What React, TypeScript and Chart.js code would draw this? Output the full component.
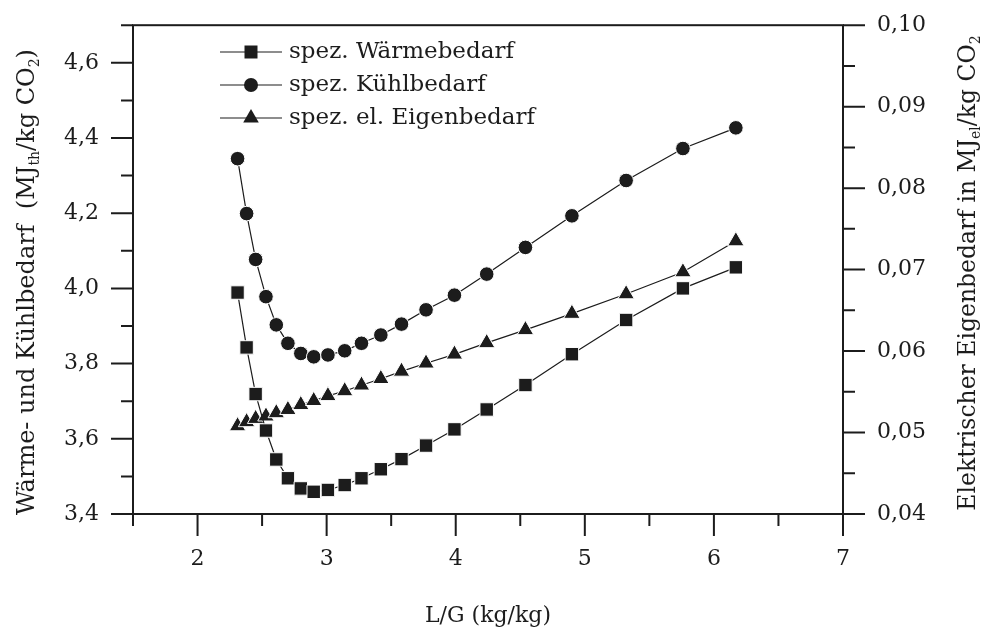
import React, { useEffect, useRef } from 'react';
import { Chart, registerables } from 'chart.js';

Chart.register(...registerables);

// ---- data ----
const xValues = [2.31, 2.38, 2.45, 2.53, 2.61, 2.70, 2.80, 2.90, 3.01, 3.14, 3.27, 3.42, 3.58, 3.77, 3.99, 4.24, 4.54, 4.90, 5.32, 5.76, 6.17];
const waermebedarf = [3.989, 3.843, 3.719, 3.622, 3.545, 3.495, 3.468, 3.459, 3.464, 3.477, 3.495, 3.519, 3.546, 3.582, 3.625, 3.678, 3.743, 3.825, 3.916, 4.000, 4.056];
const kuehlbedarf = [4.345, 4.199, 4.077, 3.978, 3.903, 3.854, 3.827, 3.818, 3.823, 3.834, 3.854, 3.876, 3.905, 3.943, 3.982, 4.038, 4.109, 4.193, 4.287, 4.372, 4.427];
const eigenbedarf = [0.0508, 0.0513, 0.0517, 0.0520, 0.0524, 0.0528, 0.0534, 0.0539, 0.0545, 0.0551, 0.0558, 0.0566, 0.0575, 0.0585, 0.0596, 0.0610, 0.0626, 0.0646, 0.0670, 0.0697, 0.0735];

const seriesNames = ['spez. Wärmebedarf', 'spez. Kühlbedarf', 'spez. el. Eigenbedarf'];

const xTicks = [1.5, 2, 2.5, 3, 3.5, 4, 4.5, 5, 5.5, 6, 6.5, 7];
const xTickLabels = ['', '2', '', '3', '', '4', '', '5', '', '6', '', '7'];
const leftTicks = [3.4, 3.5, 3.6, 3.7, 3.8, 3.9, 4.0, 4.1, 4.2, 4.3, 4.4, 4.5, 4.6, 4.7];
const leftTickLabels = ['3,4', '', '3,6', '', '3,8', '', '4,0', '', '4,2', '', '4,4', '', '4,6', ''];
const rightTicks = [0.04, 0.045, 0.05, 0.055, 0.06, 0.065, 0.07, 0.075, 0.08, 0.085, 0.09, 0.095, 0.1];
const rightTickLabels = ['0,04', '', '0,05', '', '0,06', '', '0,07', '', '0,08', '', '0,09', '', '0,10'];

const xTitle = 'L/G (kg/kg)';
const leftTitle = [
  { t: 'Wärme- und Kühlbedarf  (MJ' },
  { t: 'th', sub: true },
  { t: '/kg CO' },
  { t: '2', sub: true },
  { t: ')' },
];
const rightTitle = [
  { t: 'Elektrischer Eigenbedarf in MJ' },
  { t: 'el', sub: true },
  { t: '/kg CO' },
  { t: '2', sub: true },
];

const FONT = '"DejaVu Serif", serif';
const INK = '#1c1c1c';

type Part = { t: string; sub?: boolean };

function richWidth(ctx: CanvasRenderingContext2D, parts: Part[], size: number) {
  let w = 0;
  for (const p of parts) {
    ctx.font = `${p.sub ? Math.round(size * 0.6) : size}px ${FONT}`;
    w += ctx.measureText(p.t).width;
  }
  return w;
}

function drawRich(ctx: CanvasRenderingContext2D, parts: Part[], size: number, cx: number, cy: number, rot: number) {
  ctx.save();
  ctx.translate(cx, cy);
  ctx.rotate(rot);
  const w = richWidth(ctx, parts, size);
  let x = -w / 2;
  ctx.textBaseline = 'alphabetic';
  ctx.textAlign = 'left';
  ctx.fillStyle = INK;
  for (const p of parts) {
    const s = p.sub ? Math.round(size * 0.6) : size;
    ctx.font = `${s}px ${FONT}`;
    ctx.fillText(p.t, x, p.sub ? size * 0.22 : 0);
    x += ctx.measureText(p.t).width;
  }
  ctx.restore();
}

function drawMarker(ctx: CanvasRenderingContext2D, style: string, x: number, y: number) {
  ctx.save();
  ctx.fillStyle = INK;
  ctx.beginPath();
  if (style === 'rect') {
    ctx.rect(x - 6.5, y - 6.5, 13, 13);
  } else if (style === 'circle') {
    ctx.arc(x, y, 7, 0, Math.PI * 2);
  } else {
    const r = 9;
    ctx.moveTo(x, y - r);
    ctx.lineTo(x + r * 0.866, y + r * 0.5);
    ctx.lineTo(x - r * 0.866, y + r * 0.5);
    ctx.closePath();
  }
  ctx.fill();
  ctx.restore();
}

const markerStyles = ['rect', 'circle', 'triangle'];

const decorPlugin = {
  id: 'decor',
  afterDraw(chart: any) {
    const ctx: CanvasRenderingContext2D = chart.ctx;
    const { left, right, top, bottom } = chart.chartArea;
    const xs = chart.scales.x;
    const yl = chart.scales.y;
    const yr = chart.scales.y2;
    ctx.save();
    ctx.strokeStyle = INK;
    ctx.lineWidth = 2;
    ctx.lineCap = 'butt';
    // frame
    ctx.strokeRect(left, top, right - left, bottom - top);
    // ticks
    ctx.beginPath();
    xs.ticks.forEach((t: any, i: number) => {
      const px = xs.getPixelForTick(i);
      const len = xTickLabels[i] ? 22 : 12;
      ctx.moveTo(px, bottom);
      ctx.lineTo(px, bottom + len);
    });
    yl.ticks.forEach((t: any, i: number) => {
      const py = yl.getPixelForTick(i);
      const len = leftTickLabels[i] ? 22 : 12;
      ctx.moveTo(left, py);
      ctx.lineTo(left - len, py);
    });
    yr.ticks.forEach((t: any, i: number) => {
      const py = yr.getPixelForTick(i);
      const len = rightTickLabels[i] ? 22 : 12;
      ctx.moveTo(right, py);
      ctx.lineTo(right + len, py);
    });
    ctx.stroke();

    // legend
    const rows = [52, 85, 118];
    rows.forEach((ry, i) => {
      ctx.beginPath();
      ctx.strokeStyle = INK;
      ctx.lineWidth = 1.2;
      ctx.moveTo(220, ry);
      ctx.lineTo(282, ry);
      ctx.stroke();
      drawMarker(ctx, markerStyles[i], 251, ry);
      ctx.fillStyle = INK;
      ctx.font = `23px ${FONT}`;
      ctx.textBaseline = 'middle';
      ctx.textAlign = 'left';
      ctx.fillText(seriesNames[i], 289, ry);
    });

    // axis titles
    drawRich(ctx, [{ t: xTitle }], 22, (left + right) / 2, 622, 0);
    drawRich(ctx, leftTitle, 24, 34, 282, -Math.PI / 2);
    drawRich(ctx, rightTitle, 23.5, 975, 273, -Math.PI / 2);
    ctx.restore();
  },
};

function makeTicks(values: number[]) {
  return (scale: any) => {
    scale.ticks = values.map((v) => ({ value: v }));
  };
}

export default function App() {
  const ref = useRef<HTMLCanvasElement | null>(null);
  useEffect(() => {
    if (!ref.current) return;
    const mk = (ys: number[]) => xValues.map((x, i) => ({ x, y: ys[i] }));
    const common = {
      borderColor: INK,
      borderWidth: 1.2,
      pointBackgroundColor: INK,
      pointBorderColor: '#ffffff',
      pointBorderWidth: 1,
      showLine: true,
      tension: 0,
      fill: false,
    };
    const gridOpts = {
      display: true,
      drawOnChartArea: false,
      drawTicks: true,
      tickLength: 22,
      color: 'rgba(0,0,0,0)',
    };
    const tickFont = { family: FONT, size: 22 };
    const chart = new Chart(ref.current, {
      type: 'line',
      data: {
        datasets: [
          { ...common, label: seriesNames[0], data: mk(waermebedarf), pointStyle: 'rect', pointRadius: 9.5, yAxisID: 'y' },
          { ...common, label: seriesNames[1], data: mk(kuehlbedarf), pointStyle: 'circle', pointRadius: 7.3, yAxisID: 'y' },
          { ...common, label: seriesNames[2], data: mk(eigenbedarf), pointStyle: 'triangle', pointRadius: 9.5, yAxisID: 'y2' },
        ],
      },
      options: {
        animation: false,
        responsive: true,
        maintainAspectRatio: false,
        layout: { padding: { top: 25, left: 0, right: 0, bottom: 0 } },
        plugins: { legend: { display: false }, tooltip: { enabled: false } },
        scales: {
          x: {
            type: 'linear',
            min: 1.5,
            max: 7,
            grid: gridOpts,
            border: { display: false },
            afterBuildTicks: makeTicks(xTicks),
            afterFit: (s: any) => { s.height = 115; },
            ticks: {
              autoSkip: false,
              maxRotation: 0,
              padding: 10,
              color: INK,
              font: tickFont,
              callback: (_v: any, i: number) => xTickLabels[i],
            },
          },
          y: {
            type: 'linear',
            position: 'left',
            min: 3.4,
            max: 4.7,
            grid: gridOpts,
            border: { display: false },
            afterBuildTicks: makeTicks(leftTicks),
            afterFit: (s: any) => { s.width = 133; },
            ticks: {
              autoSkip: false,
              padding: 12,
              color: INK,
              font: tickFont,
              callback: (_v: any, i: number) => leftTickLabels[i],
            },
          },
          y2: {
            type: 'linear',
            position: 'right',
            min: 0.04,
            max: 0.1,
            grid: gridOpts,
            border: { display: false },
            afterBuildTicks: makeTicks(rightTicks),
            afterFit: (s: any) => { s.width = 138; },
            ticks: {
              autoSkip: false,
              padding: 12,
              color: INK,
              font: tickFont,
              callback: (_v: any, i: number) => rightTickLabels[i],
            },
          },
        },
      },
      plugins: [decorPlugin],
    } as any);
    return () => chart.destroy();
  }, []);
  return (
    <div style={{ position: 'fixed', left: 0, top: 0, width: 981, height: 629, background: '#fff' }}>
      <canvas ref={ref} />
    </div>
  );
}
